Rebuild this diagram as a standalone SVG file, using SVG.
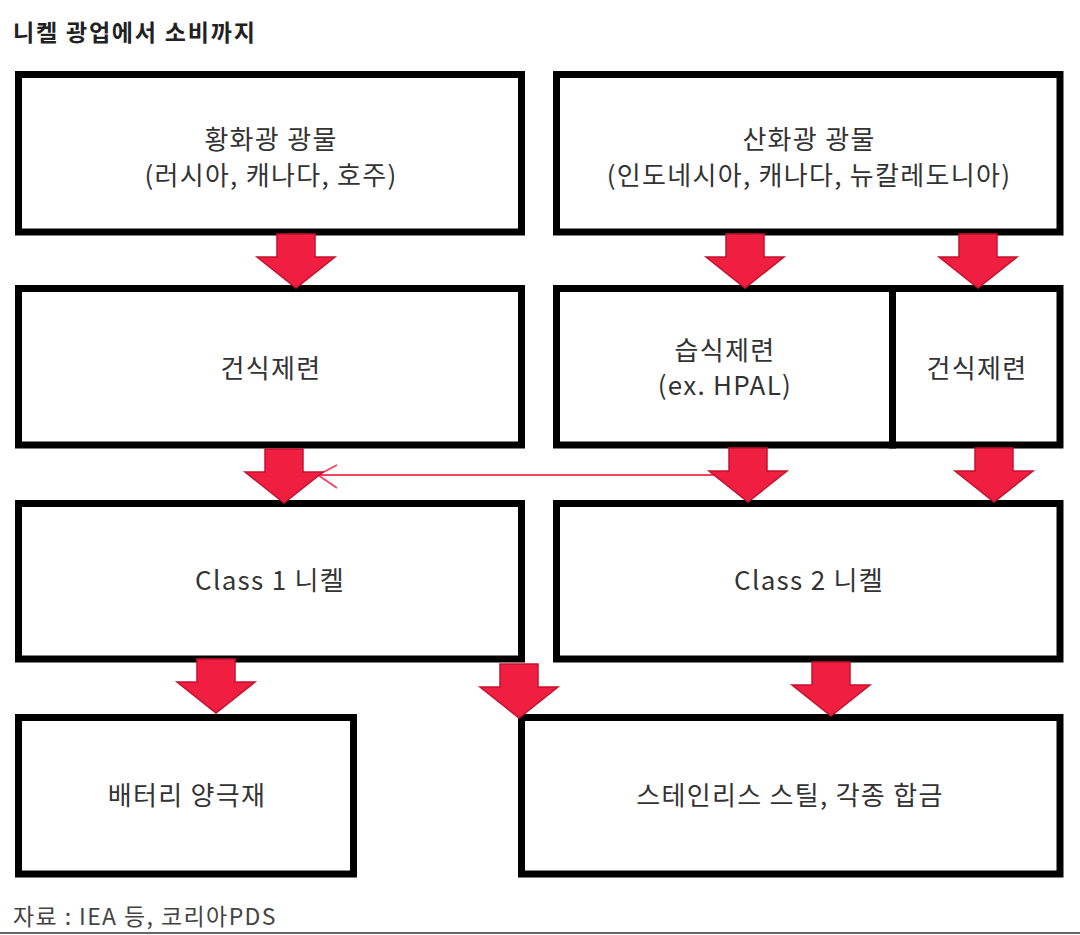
<svg xmlns="http://www.w3.org/2000/svg" width="1080" height="935" viewBox="0 0 1080 935">
<style>
.box{fill:#fff;stroke:#000;stroke-width:7}
.t{font-family:"Noto Sans CJK KR","Noto Sans",sans-serif;font-size:26px;letter-spacing:1.3px;fill:#333;text-anchor:middle}
.arr{fill:#f01e40;stroke:#c4122f;stroke-width:1.5;stroke-linejoin:miter}
</style>
<defs>
<path id="fat" class="arr" d="M-19,-54 H19 V-31 H39 L0,0 L-39,-31 H-19 Z"/>
</defs>
<rect width="1080" height="935" fill="#fff"/>
<text x="13" y="41" font-family="'Noto Sans CJK KR',sans-serif" font-size="23" font-weight="bold" letter-spacing="1.8" fill="#222">니켈 광업에서 소비까지</text>
<g id="sulfide">
<rect class="box" x="18.5" y="74.5" width="503" height="157.5"/>
<text class="t" x="271" y="149">황화광 광물</text>
<text class="t" x="271" y="185">(러시아, 캐나다, 호주)</text>
</g>
<g id="oxide">
<rect class="box" x="556.5" y="74.5" width="503.5" height="157.5"/>
<text class="t" x="809" y="149">산화광 광물</text>
<text class="t" x="809" y="185">(인도네시아, 캐나다, 뉴칼레도니아)</text>
</g>
<g id="dry1">
<rect class="box" x="18.5" y="288.5" width="503" height="156.5"/>
<text class="t" x="271" y="378">건식제련</text>
</g>
<g id="wet">
<rect class="box" x="556.5" y="288.5" width="336" height="156.5"/>
<text class="t" x="725" y="360">습식제련</text>
<text class="t" x="725" y="395">(ex. HPAL)</text>
</g>
<g id="dry2">
<rect class="box" x="892.5" y="288.5" width="167.5" height="156.5"/>
<text class="t" x="977" y="378">건식제련</text>
</g>
<g id="class1">
<rect class="box" x="18.5" y="503.5" width="503" height="155.5"/>
<text class="t" x="270" y="590">Class 1 니켈</text>
</g>
<g id="class2">
<rect class="box" x="556.5" y="503.5" width="503.5" height="155.5"/>
<text class="t" x="809" y="590">Class 2 니켈</text>
</g>
<g id="battery">
<rect class="box" x="18.5" y="717.5" width="335" height="156.5"/>
<text class="t" x="187" y="805">배터리 양극재</text>
</g>
<g id="stainless">
<rect class="box" x="521.5" y="717.5" width="538.5" height="156.5"/>
<text class="t" x="790" y="805">스테인리스 스틸, 각종 합금</text>
</g>
<g id="connectors">
<line x1="722" y1="475" x2="318" y2="475" stroke="#f04462" stroke-width="1.8"/>
<polyline points="337,465 318,475 337,488" fill="none" stroke="#f04462" stroke-width="1.8"/>
<use href="#fat" x="296" y="288"/>
<use href="#fat" x="745" y="288"/>
<use href="#fat" x="978" y="288"/>
<use href="#fat" x="284" y="503"/>
<use href="#fat" x="748" y="502"/>
<use href="#fat" x="994" y="502"/>
<use href="#fat" x="216" y="713"/>
<use href="#fat" x="519" y="718"/>
<use href="#fat" x="831" y="716"/>
</g>
<text x="13" y="925" font-family="'Noto Sans CJK KR',sans-serif" font-size="23" letter-spacing="1.4" fill="#444">자료 : IEA 등, 코리아PDS</text>
<line x1="0" y1="933" x2="1080" y2="933" stroke="#666" stroke-width="2"/>
</svg>
